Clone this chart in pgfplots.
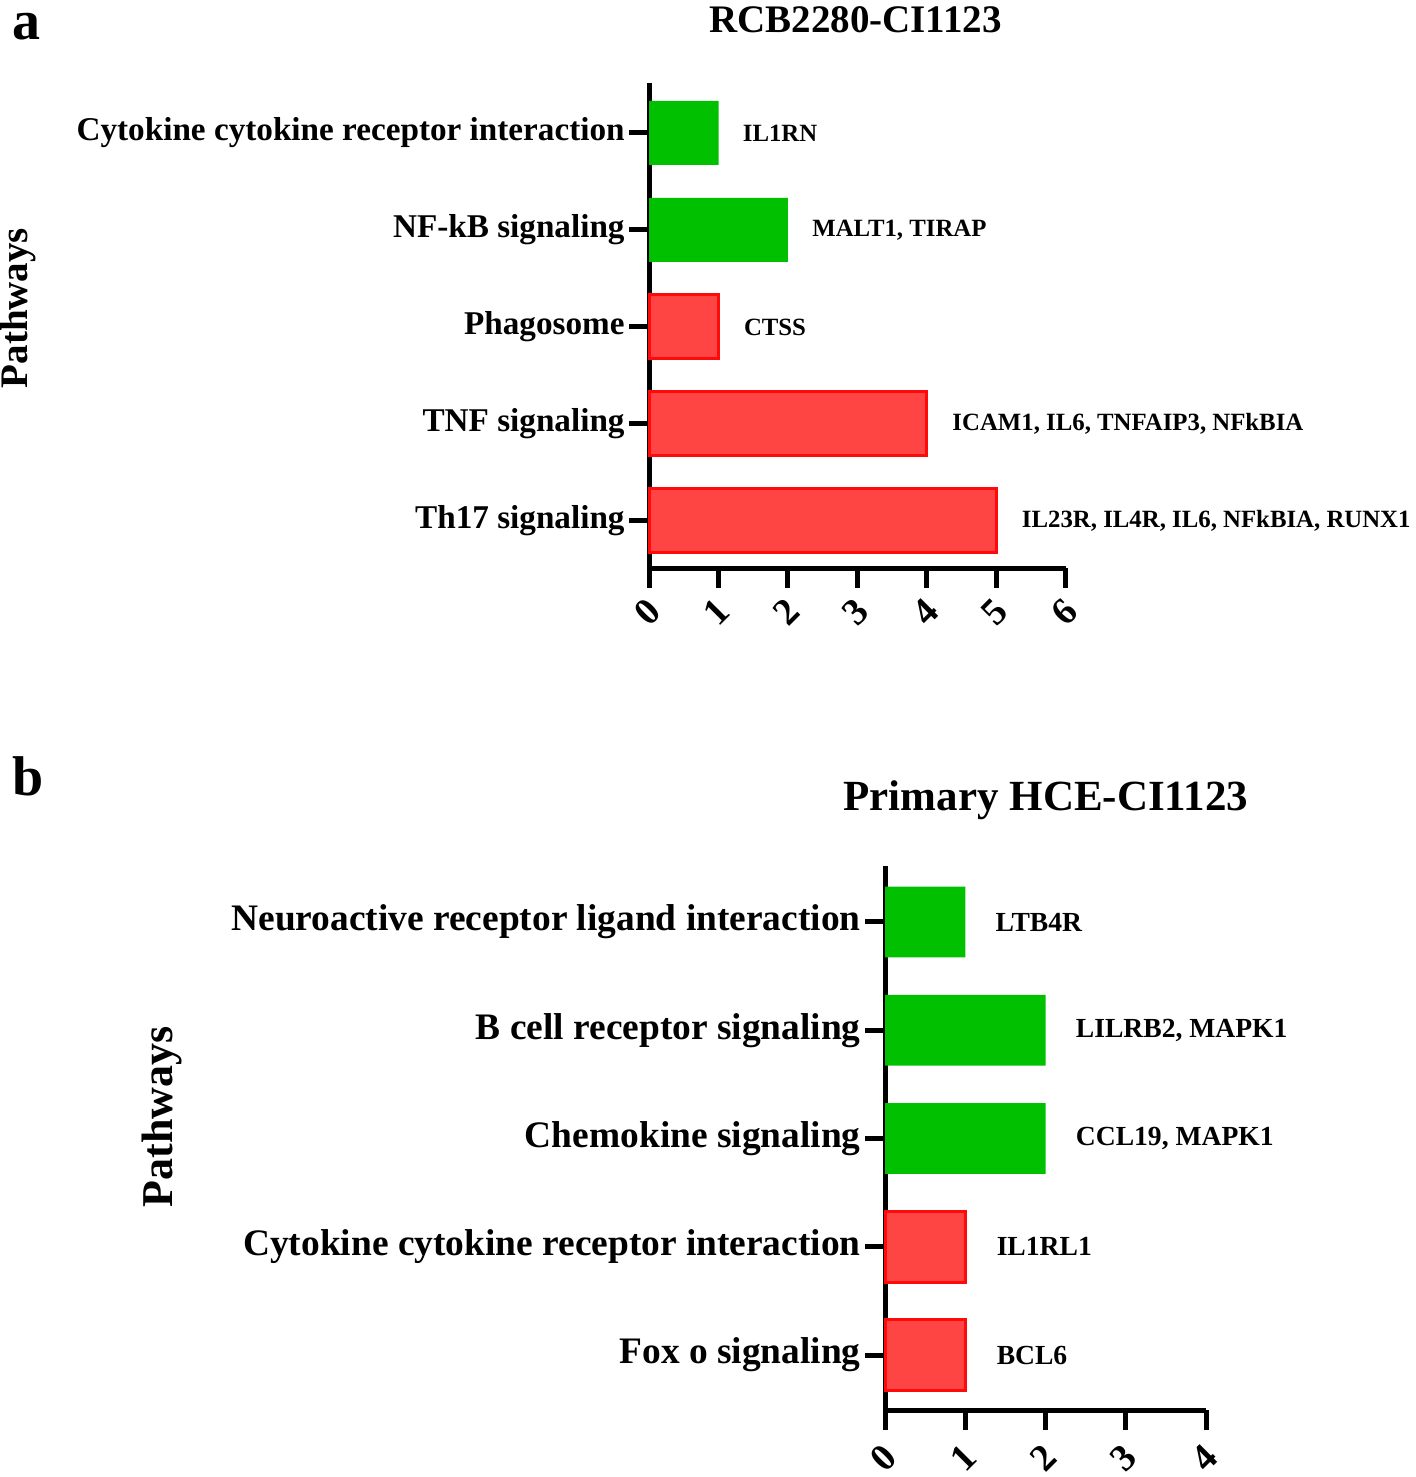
\documentclass[border=0pt]{standalone}
\usepackage{pgfplots}
\pgfplotsset{compat=1.18}
\usepackage{fontspec}
\setmainfont{Liberation Serif}
\definecolor{bargreen}{RGB}{0,192,0}
\definecolor{barred}{RGB}{255,68,68}
\definecolor{edgered}{RGB}{255,10,10}
\begin{document}
\begin{tikzpicture}
\useasboundingbox (0pt,0pt) rectangle (708pt,-738.5pt);
\pgfplotsset{
  mybars/.style={
    scale only axis,
    axis x line*=bottom, axis y line*=left,
    axis line style={line width=2.5pt, black},
    tick align=outside,
    major tick length=10pt,
    every tick/.style={line width=2.5pt, black},
    /pgf/number format/assume math mode=true,
    clip=false,
  }
}
% ---------------- panel a
\node[anchor=base west, inner sep=0pt, font=\bfseries\fontsize{28}{30}\selectfont] at (6pt,-20pt) {a};
\node[anchor=base, font=\bfseries\fontsize{19.5}{22}\selectfont] at (427.75pt,-16.5pt) {RCB2280-CI1123};
\node[rotate=90, inner sep=0pt, font=\bfseries\fontsize{19.5}{22}\selectfont] at (9pt,-154pt) {Pathways};
\begin{axis}[mybars,
  at={(324.5pt,-284pt)}, anchor=south west,
  width=208.5pt, height=242.5pt,
  xmin=0, xmax=6, ymin=-0.485, ymax=4.515,
  xtick={0,1,2,3,4,5,6},
  xticklabels={\textbf{0},\textbf{1},\textbf{2},\textbf{3},\textbf{4},\textbf{5},\textbf{6}},
  ytick={0,1,2,3,4},
  yticklabels={Th17 signaling, TNF signaling, Phagosome, NF-kB signaling, Cytokine cytokine receptor interaction},
  yticklabel style={font=\bfseries\fontsize{16.6}{18}\selectfont, inner sep=2pt},
  xticklabel style={font=\bfseries\fontsize{19}{20}\selectfont, xshift=-1pt, yshift=-12pt, rotate=45, anchor=center},
  nodes near coords,
  point meta=explicit symbolic,
  every node near coord/.append style={anchor=west, inner sep=0pt, xshift=12pt, font=\bfseries\fontsize{12.4}{14}\selectfont, black},
]
\addplot[xbar, bar shift=0pt, bar width=0.66, fill=bargreen, draw=none] coordinates {
 (1,4) [IL1RN]
 (2,3) [{MALT1, TIRAP}]
};
\addplot[xbar, bar shift=0pt, bar width=0.66, fill=barred, draw=edgered, line width=1.5pt] coordinates {
 (1,2) [CTSS]
 (4,1) [{ICAM1, IL6, TNFAIP3, NFkBIA}]
 (5,0) [{IL23R, IL4R, IL6, NFkBIA, RUNX1}]
};
\end{axis}
% ---------------- panel b
\node[anchor=base west, inner sep=0pt, font=\bfseries\fontsize{28}{30}\selectfont] at (6pt,-397.5pt) {b};
\node[anchor=base, font=\bfseries\fontsize{21.5}{24}\selectfont] at (523pt,-405pt) {Primary HCE-CI1123};
\node[rotate=90, inner sep=0pt, font=\bfseries\fontsize{22}{24}\selectfont] at (81pt,-558.5pt) {Pathways};
\begin{axis}[mybars,
  at={(442.5pt,-705pt)}, anchor=south west,
  width=160.5pt, height=272pt,
  xmin=0, xmax=4, ymin=-0.508, ymax=4.517,
  xtick={0,1,2,3,4},
  xticklabels={\textbf{0},\textbf{1},\textbf{2},\textbf{3},\textbf{4}},
  ytick={0,1,2,3,4},
  yticklabels={Fox o signaling, Cytokine cytokine receptor interaction, Chemokine signaling, B cell receptor signaling, Neuroactive receptor ligand interaction},
  yticklabel style={font=\bfseries\fontsize{18.7}{20}\selectfont, inner sep=2pt},
  xticklabel style={font=\bfseries\fontsize{19}{20}\selectfont, xshift=-1pt, yshift=-14pt, rotate=45, anchor=center},
  nodes near coords,
  point meta=explicit symbolic,
  every node near coord/.append style={anchor=west, inner sep=0pt, xshift=15pt, font=\bfseries\fontsize{13.8}{15}\selectfont, black},
]
\addplot[xbar, bar shift=0pt, bar width=0.655, fill=bargreen, draw=none] coordinates {
 (1,4) [LTB4R]
 (2,3) [{LILRB2, MAPK1}]
 (2,2) [{CCL19, MAPK1}]
};
\addplot[xbar, bar shift=0pt, bar width=0.655, fill=barred, draw=edgered, line width=1.5pt] coordinates {
 (1,1) [IL1RL1]
 (1,0) [BCL6]
};
\end{axis}
\end{tikzpicture}
\end{document}
